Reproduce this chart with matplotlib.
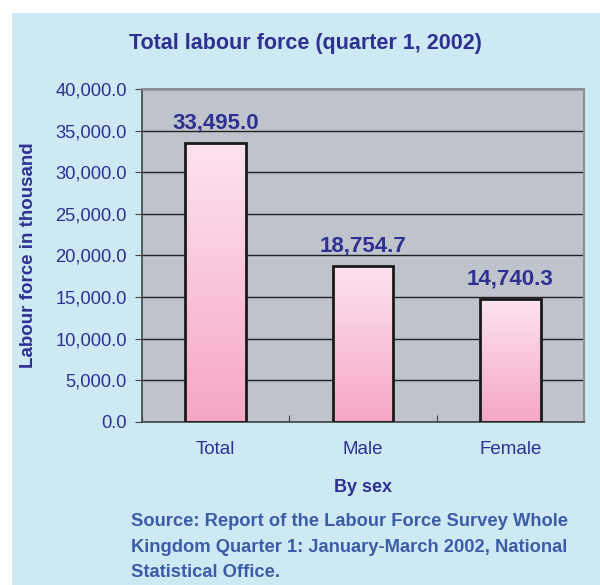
import matplotlib.pyplot as plt
import matplotlib.patches as patches
from matplotlib.colors import LinearSegmentedColormap
from matplotlib.ticker import FuncFormatter
import numpy as np

# Data
categories = ['Total', 'Male', 'Female']
labour_force = [33495.0, 18754.7, 14740.3]

title_color = '#2e3192'
source_color = '#3d5ba8'
panel_color = '#cde9f3'
plot_bg = '#bfc3cb'

plt.rcParams['font.family'] = ['Liberation Sans', 'DejaVu Sans']

fig = plt.figure(figsize=(6, 5.85), dpi=100)
fig.patch.set_facecolor('white')

# Light blue panel behind the chart
panel = patches.Rectangle((12 / 600, 0), 1, 1 - 13 / 585, transform=fig.transFigure,
                          facecolor=panel_color, edgecolor='none', zorder=0)
fig.add_artist(panel)

ax = fig.add_axes([142 / 600, 163 / 585, 442 / 600, 333 / 585])
ax.set_facecolor(plot_bg)

x = np.arange(len(categories))
bars = ax.bar(x, labour_force, width=0.41, facecolor='none', edgecolor='#1a1a1a',
              linewidth=2, zorder=3)

# Pink vertical gradient inside each bar
cmap = LinearSegmentedColormap.from_list('pink', ['#f5a6c6', '#fde3ef'])
grad = np.linspace(0, 1, 256).reshape(-1, 1)
for b in bars:
    x0, y0 = b.get_x(), b.get_y()
    im = ax.imshow(grad, cmap=cmap, origin='lower', aspect='auto',
                   extent=[x0, x0 + b.get_width(), y0, y0 + b.get_height()], zorder=2)
    im.set_clip_path(b)

for xi, v in zip(x, labour_force):
    ax.annotate(f'{v:,.1f}', (xi, v), xytext=(0, 7), textcoords='offset points',
                ha='center', va='bottom', fontsize=16, fontweight='bold', color=title_color)

ax.set_xlim(-0.5, 2.5)
ax.set_ylim(0, 40000)
ax.set_yticks(np.arange(0, 40001, 5000))
ax.yaxis.set_major_formatter(FuncFormatter(lambda v, p: f'{v:,.1f}'))
ax.yaxis.grid(True, color='#222222', linewidth=1)
ax.set_axisbelow(True)

ax.set_xticks([-0.5, 0.5, 1.5, 2.5])
ax.set_xticklabels([])
ax.set_xticks(x, minor=True)
ax.set_xticklabels(categories, minor=True)
ax.tick_params(axis='x', which='minor', length=0, pad=14, labelsize=13.5, labelcolor=title_color)
ax.tick_params(axis='x', which='major', length=5, direction='in', color='#444444')
ax.tick_params(axis='y', length=5, direction='out', color='#444444', labelsize=13.2,
               labelcolor=title_color, pad=6)

for side in ['top', 'right']:
    ax.spines[side].set_color('#8a8d93')
    ax.spines[side].set_linewidth(1.5)
for side in ['left', 'bottom']:
    ax.spines[side].set_color('#444444')
    ax.spines[side].set_linewidth(1.2)

ax.set_xlabel('By sex', fontsize=13, fontweight='bold', color=title_color, labelpad=15)
ax.set_ylabel('Labour force in thousand', fontsize=13.5, fontweight='bold', color=title_color)
ax.yaxis.set_label_coords(-(142 - 37) / 442, 0.5)

fig.text(305 / 600, 1 - 43 / 585, 'Total labour force (quarter 1, 2002)', ha='center', va='center',
         fontsize=15.5, fontweight='bold', color=title_color)

fig.text(131 / 600, 1 - 513 / 585,
         'Source: Report of the Labour Force Survey Whole\n'
         'Kingdom Quarter 1: January-March 2002, National\n'
         'Statistical Office.',
         ha='left', va='top', fontsize=13.2, fontweight='bold', color=source_color,
         linespacing=1.66)

plt.savefig('out.png', dpi=100, facecolor=fig.get_facecolor())
